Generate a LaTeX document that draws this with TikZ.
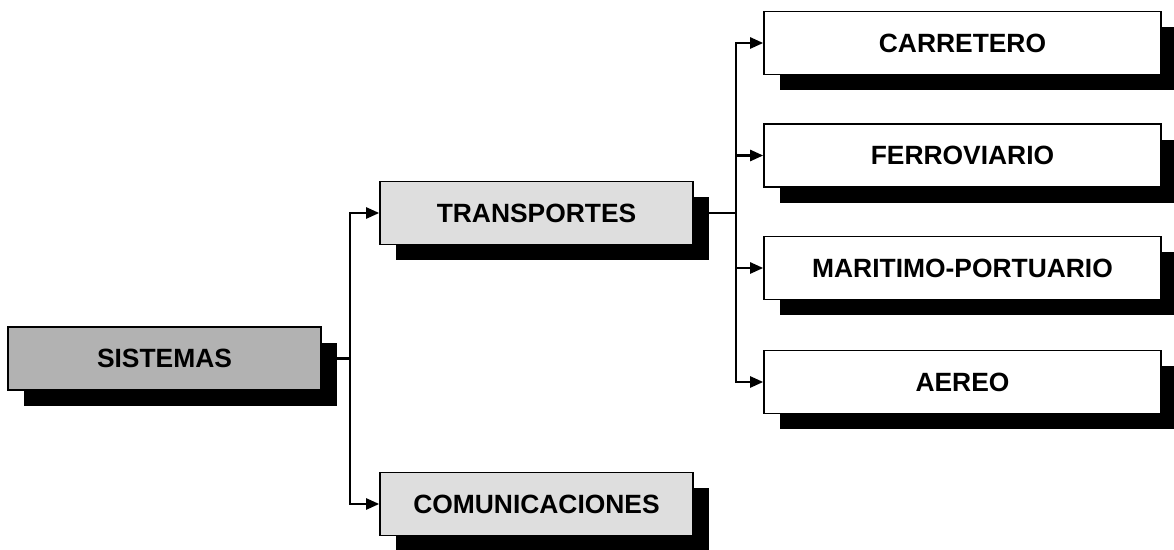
\documentclass[tikz,border=0pt]{standalone}
\usepackage{fontspec}
\setmainfont{Liberation Sans}
\usetikzlibrary{positioning,arrows.meta,shadows}

\begin{document}
\begin{tikzpicture}[x=0.5pt,y=-0.5pt,
	caja/.style={draw,line width=0.8pt,minimum height=31.5pt,font=\fontsize{13.2}{15}\selectfont\bfseries,
		drop shadow={shadow xshift=8pt,shadow yshift=-8pt,opacity=1,fill=black}},
	flecha/.style={line width=1.2pt,-{Triangle[length=6.5pt,width=5.5pt]}}]
	\useasboundingbox (0,0) rectangle (1174,550);
	
	\node[caja,fill=black!30,minimum width=156.5pt](S) at (164.5,358.5){SISTEMAS};
	\node[caja,fill=black!13,minimum width=156.5pt](T) at (536.5,213){TRANSPORTES};
	\node[caja,fill=black!13,minimum width=156.5pt](C) at (536.5,504){COMUNICACIONES};
	\foreach \y/\t [count=\n] in {43/CARRETERO,155.5/FERROVIARIO,268/MARITIMO-PORTUARIO,382/AEREO}
	\node[caja,fill=white,minimum width=198.5pt](R\n) at (962.5,\y){\t};
	
	\draw[line width=1.2pt] (S.east) -- ++(28,0) coordinate (j1);
	\draw[flecha] (j1) |- (T.west);
	\draw[flecha] (j1) |- (C.west);
	\draw[line width=1.2pt] (T.east) -- ++(42,0) coordinate (j2);
	\foreach \n in {1,...,4} \draw[flecha] (j2) |- (R\n.west);
\end{tikzpicture}
\end{document}
